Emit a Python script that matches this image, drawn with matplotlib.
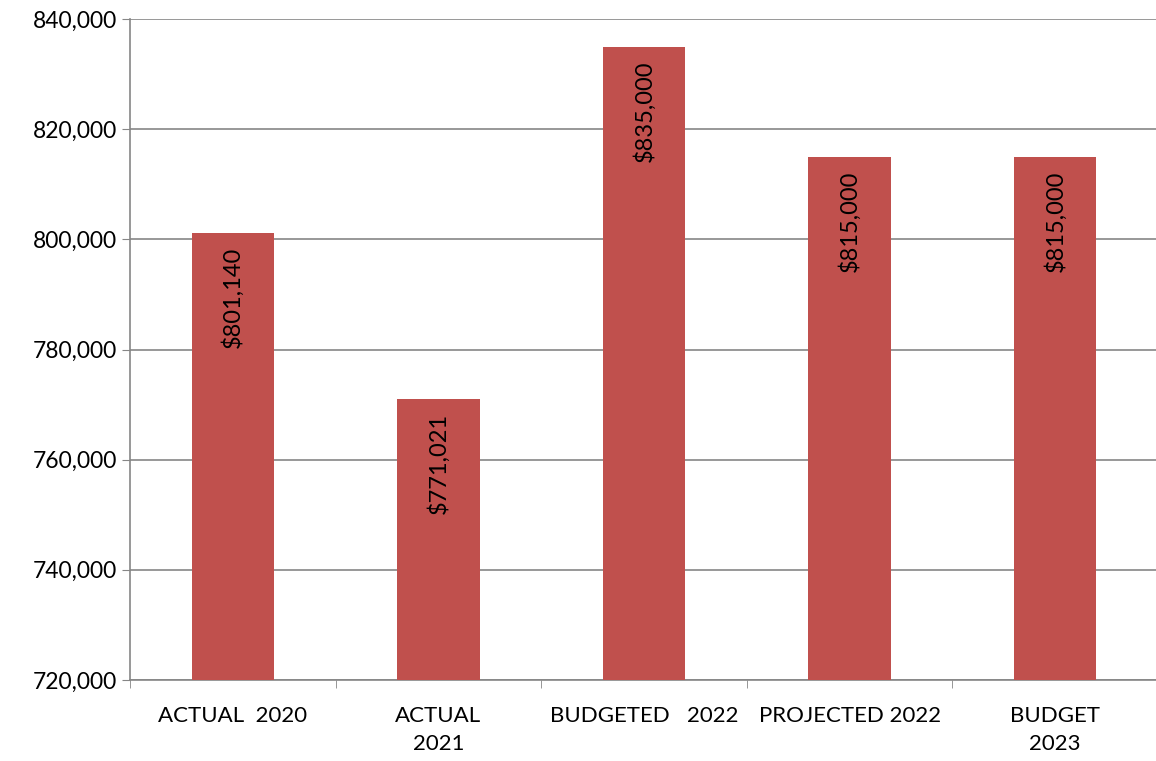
import numpy as np
import matplotlib
matplotlib.use("Agg")
import matplotlib.pyplot as plt
from matplotlib.ticker import FuncFormatter

categories = ["ACTUAL  2020", "ACTUAL\n2021", "BUDGETED   2022", "PROJECTED 2022", "BUDGET\n2023"]
values = [801140, 771021, 835000, 815000, 815000]
bar_labels = ["$801,140", "$771,021", "$835,000", "$815,000", "$815,000"]

plt.rcParams['font.family'] = ['Lato', 'DejaVu Sans']

fig = plt.figure(figsize=(11.56, 7.61), dpi=100)
ax = fig.add_axes([130 / 1156, 1 - 680 / 761, 1028 / 1156, 661 / 761])

x = np.arange(len(categories))
bars = ax.bar(x, values, width=0.4, color="#C0504D", zorder=3)

# value labels, rotated, sitting just inside the top of each bar
for xi, v, lab in zip(x, values, bar_labels):
    ax.annotate(lab, (xi, v), xytext=(0, -10), textcoords="offset points",
                rotation=90, ha="center", va="top", fontsize=17, color="black",
                zorder=4)

ax.set_ylim(720000, 840000)
ax.set_yticks(np.arange(720000, 840001, 20000))
ax.yaxis.set_major_formatter(FuncFormatter(lambda v, p: f"{int(v):,}"))
ax.set_xlim(-0.5, len(categories) - 0.5)
ax.set_xticks(x)
ax.set_xticklabels(categories, fontsize=16, linespacing=1.45)
ax.tick_params(axis="x", length=0, pad=19)
ax.tick_params(axis="y", labelsize=16.5, length=6, color="#868686", pad=3)

# small tick marks on the category boundaries
ax.set_xticks(np.arange(-0.5, len(categories)), minor=True)
ax.tick_params(axis="x", which="minor", length=6, color="#868686")

ax.grid(axis="y", color="#868686", linewidth=1.2, zorder=0)
for side in ["top", "right"]:
    ax.spines[side].set_visible(False)
for side in ["left", "bottom"]:
    ax.spines[side].set_color("#868686")
    ax.spines[side].set_linewidth(1.2)

fig.savefig("out.png", dpi=100)
